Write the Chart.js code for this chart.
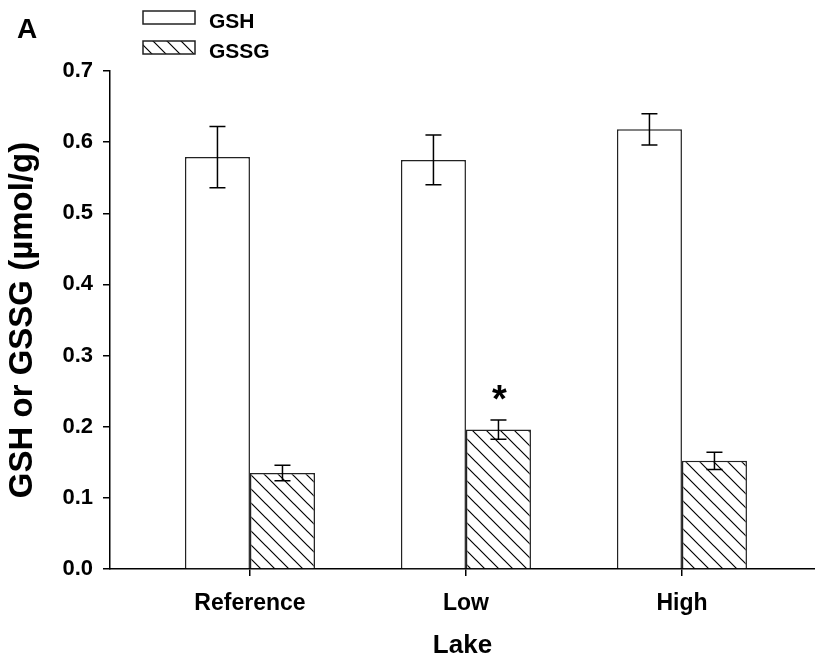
<!DOCTYPE html>
<html>
<head>
<meta charset="utf-8">
<script src="https://cdn.jsdelivr.net/npm/chart.js@4/dist/chart.umd.min.js"></script>
<style>
  html, body { margin: 0; padding: 0; background: #fff; }
  #wrap { width: 815px; height: 666px; }
</style>
</head>
<body>
<div id="wrap"><canvas id="c" width="815" height="666"></canvas></div>
<script>
// ---- data ----
const categories = ['Reference', 'Low', 'High'];
const gshValues = [0.579, 0.575, 0.618];
const gshErrors = [0.043, 0.035, 0.022];
const gssgValues = [0.135, 0.196, 0.152];
const gssgErrors = [0.011, 0.0135, 0.012];
const gssgMarks = ['', '*', ''];
const yTicks = [0, 0.1, 0.2, 0.3, 0.4, 0.5, 0.6, 0.7];
const seriesNames = ['GSH', 'GSSG'];
const panelLabel = 'A';
const xTitle = 'Lake';
const yTitle = 'GSH or GSSG (\u00b5mol/g)';

const FONT = '"Liberation Sans", Arial, Helvetica, sans-serif';

function makeHatch() {
  const s = 14;
  const p = document.createElement('canvas');
  p.width = s; p.height = s;
  const g = p.getContext('2d');
  g.fillStyle = '#fff';
  g.fillRect(0, 0, s, s);
  g.strokeStyle = '#000';
  g.lineWidth = 1.2;
  g.beginPath();
  g.moveTo(-2, -2); g.lineTo(s + 2, s + 2);
  g.moveTo(-2 - s, -2); g.lineTo(2, s + 2);
  g.moveTo(s - 2, -2); g.lineTo(2 * s + 2, s + 2);
  g.stroke();
  return document.getElementById('c').getContext('2d').createPattern(p, 'repeat');
}
const hatch = makeHatch();

const toPoints = arr => arr.map((v, i) => ({ x: i, y: v }));

const errorBarPlugin = {
  id: 'errorBars',
  afterDatasetsDraw(chart) {
    const ctx = chart.ctx;
    const yScale = chart.scales.y;
    ctx.save();
    chart.data.datasets.forEach((ds, di) => {
      const meta = chart.getDatasetMeta(di);
      meta.data.forEach((bar, i) => {
        const v = ds.data[i].y;
        const e = ds.errors[i];
        const yt = yScale.getPixelForValue(v + e);
        const yb = yScale.getPixelForValue(v - e);
        const x = bar.x;
        ctx.strokeStyle = '#000';
        ctx.lineWidth = 1.5;
        ctx.beginPath();
        ctx.moveTo(x, yt); ctx.lineTo(x, yb);
        ctx.moveTo(x - 8, yt); ctx.lineTo(x + 8, yt);
        ctx.moveTo(x - 8, yb); ctx.lineTo(x + 8, yb);
        ctx.stroke();
        if (ds.marks && ds.marks[i]) {
          ctx.fillStyle = '#000';
          ctx.font = 'bold 38px ' + FONT;
          ctx.textAlign = 'center';
          ctx.textBaseline = 'alphabetic';
          ctx.fillText(ds.marks[i], x + 1, yt - 8);
        }
      });
    });
    ctx.restore();
  }
};

const legendPlugin = {
  id: 'customLegend',
  afterDraw(chart) {
    const ctx = chart.ctx;
    ctx.save();
    ctx.fillStyle = '#000';
    ctx.font = 'bold 28px ' + FONT;
    ctx.textAlign = 'left';
    ctx.textBaseline = 'alphabetic';
    ctx.fillText(panelLabel, 17, 38);
    const rows = [{ y: 11 }, { y: 41 }];
    chart.data.datasets.forEach((ds, i) => {
      const r = rows[i];
      ctx.fillStyle = ds.backgroundColor;
      ctx.fillRect(143, r.y, 52, 13);
      ctx.strokeStyle = '#222';
      ctx.lineWidth = 1.5;
      ctx.strokeRect(143, r.y, 52, 13);
      ctx.fillStyle = '#000';
      ctx.font = 'bold 21px ' + FONT;
      ctx.fillText(ds.label, 209, r.y + 16.5);
    });
    ctx.restore();
  }
};

new Chart(document.getElementById('c'), {
  type: 'bar',
  data: {
    datasets: [
      { label: seriesNames[0], data: toPoints(gshValues), errors: gshErrors,
        backgroundColor: '#ffffff', borderColor: '#222', borderWidth: 1.5 },
      { label: seriesNames[1], data: toPoints(gssgValues), errors: gssgErrors, marks: gssgMarks,
        backgroundColor: hatch, borderColor: '#222', borderWidth: 1.5 }
    ]
  },
  options: {
    responsive: false,
    animation: false,
    devicePixelRatio: 1,
    categoryPercentage: 0.602,
    barPercentage: 1.0,
    layout: { padding: { top: 71, left: 0, right: 0, bottom: 0 } },
    plugins: { legend: { display: false }, tooltip: { enabled: false } },
    scales: {
      x: {
        type: 'linear',
        offset: false,
        min: -0.648,
        max: 2.616,
        afterBuildTicks: axis => { axis.ticks = categories.map((c, i) => ({ value: i })); },
        afterFit: axis => { axis.height = 97; },
        ticks: {
          callback: v => categories[v] ?? '',
          color: '#000',
          font: { family: FONT, size: 23, weight: 'bold' },
          padding: 14,
          maxRotation: 0
        },
        grid: { display: true, offset: false, drawOnChartArea: false, drawTicks: true, tickLength: 7, color: '#000', lineWidth: 1.5 },
        border: { display: true, color: '#000', width: 1.5 },
        title: { display: true, text: xTitle, color: '#000',
          font: { family: FONT, size: 26, weight: 'bold' }, padding: { top: 0, bottom: 5 } }
      },
      y: {
        min: 0,
        max: 0.7,
        afterBuildTicks: axis => { axis.ticks = yTicks.map(v => ({ value: v })); },
        afterFit: axis => { axis.width = 110; },
        ticks: {
          callback: v => v.toFixed(1),
          color: '#000',
          font: { family: FONT, size: 22, weight: 'bold' },
          padding: 10
        },
        grid: { display: true, drawOnChartArea: false, drawTicks: true, tickLength: 7, color: '#000', lineWidth: 1.5 },
        border: { display: true, color: '#000', width: 1.5 },
        title: { display: true, text: yTitle, color: '#000',
          font: { family: FONT, size: 33, weight: 'bold' }, padding: { top: 3, bottom: 0 } }
      }
    }
  },
  plugins: [errorBarPlugin, legendPlugin]
});
</script>
</body>
</html>
